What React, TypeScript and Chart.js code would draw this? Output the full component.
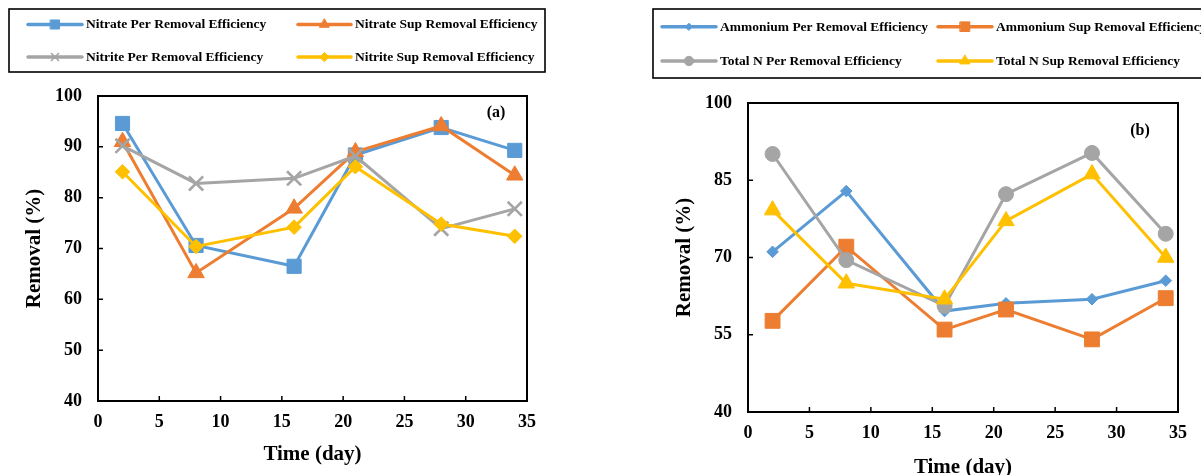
import React, { useEffect, useRef } from 'react';
import { Chart, registerables } from 'chart.js';
import { drawPoint } from 'chart.js/helpers';

Chart.register(...registerables);

// ---------- data ----------
const days = [2, 8, 16, 21, 28, 34];
const xTickValues = [0, 5, 10, 15, 20, 25, 30, 35];
const leftYTickValues = [40, 50, 60, 70, 80, 90, 100];
const rightYTickValues = [40, 55, 70, 85, 100];

const nitratePer = [94.6, 70.6, 66.5, 88.4, 93.8, 89.3];
const nitrateSup = [91.0, 65.2, 77.9, 89.0, 94.1, 84.4];
const nitritePer = [90.2, 82.8, 83.8, 88.2, 73.9, 77.8];
const nitriteSup = [85.1, 70.4, 74.2, 86.1, 74.8, 72.4];

const ammoniumPer = [71.1, 82.9, 59.6, 61.1, 61.9, 65.5];
const ammoniumSup = [57.7, 72.1, 56.0, 59.9, 54.1, 62.1];
const totalNPer = [90.1, 69.5, 60.6, 82.3, 90.3, 74.6];
const totalNSup = [79.2, 65.0, 61.9, 77.1, 86.2, 70.0];

// ---------- styles ----------
const BLUE = '#5B9BD5';
const ORANGE = '#ED7D31';
const GRAY = '#A5A5A5';
const YELLOW = '#FFC000';
const FONT = '"Liberation Serif", "Times New Roman", serif';

type Series = {
  label: string;
  values: number[];
  color: string;
  style: string;
  r: number;
  lr: number;
  bw: number;
};

const leftSeries: Series[] = [
  { label: 'Nitrate Per Removal Efficiency', values: nitratePer, color: BLUE, style: 'rect', r: 10, lr: 6.4, bw: 1 },
  { label: 'Nitrate Sup Removal Efficiency', values: nitrateSup, color: ORANGE, style: 'triangle', r: 9.5, lr: 5.5, bw: 1 },
  { label: 'Nitrite Per Removal Efficiency', values: nitritePer, color: GRAY, style: 'crossRot', r: 10, lr: 5, bw: 2.6 },
  { label: 'Nitrite Sup Removal Efficiency', values: nitriteSup, color: YELLOW, style: 'rectRot', r: 7.3, lr: 4.5, bw: 1 },
];

const rightSeries: Series[] = [
  { label: 'Ammonium Per Removal Efficiency', values: ammoniumPer, color: BLUE, style: 'rectRot', r: 5.8, lr: 3.5, bw: 1 },
  { label: 'Ammonium Sup Removal Efficiency', values: ammoniumSup, color: ORANGE, style: 'rect', r: 10.5, lr: 6.8, bw: 1 },
  { label: 'Total N Per Removal Efficiency', values: totalNPer, color: GRAY, style: 'circle', r: 7.5, lr: 4.7, bw: 1 },
  { label: 'Total N Sup Removal Efficiency', values: totalNSup, color: YELLOW, style: 'triangle', r: 9.5, lr: 5.8, bw: 1 },
];

type PanelLayout = {
  width: number;
  yWidth: number;
  xHeight: number;
  padTop: number;
  padRight: number;
  yTitlePad: number;
  xTitlePad: number;
  yTicks: number[];
  box: { left: number; top: number; right: number; bottom: number };
  cols: { l0: number; l1: number; tx: number }[];
  rows: number[];
  tag: string;
  tagX: number;
  tagY: number;
};

const leftLayout: PanelLayout = {
  width: 600,
  yWidth: 98,
  xHeight: 74,
  padTop: 96,
  padRight: 73,
  yTitlePad: 22,
  xTitlePad: 8,
  yTicks: leftYTickValues,
  box: { left: 9, top: 9, right: 545, bottom: 72 },
  cols: [
    { l0: 28, l1: 82, tx: 86 },
    { l0: 298, l1: 351, tx: 355 },
  ],
  rows: [24.5, 57],
  tag: '(a)',
  tagX: 496,
  tagY: 113,
};

const rightLayout: PanelLayout = {
  width: 601,
  yWidth: 148,
  xHeight: 63,
  padTop: 103,
  padRight: 23,
  yTitlePad: 72,
  xTitlePad: -5,
  yTicks: rightYTickValues,
  box: { left: 53, top: 9, right: 610, bottom: 78 },
  cols: [
    { l0: 62, l1: 116, tx: 120 },
    { l0: 338, l1: 392, tx: 396 },
  ],
  rows: [26.7, 61],
  tag: '(b)',
  tagX: 540,
  tagY: 131,
};

const framePlugin = {
  id: 'frame',
  beforeDatasetsDraw(chart: any) {
    const { ctx, chartArea: a, scales } = chart;
    ctx.save();
    ctx.strokeStyle = '#000';
    ctx.lineWidth = 2;
    ctx.strokeRect(a.left, a.top, a.right - a.left, a.bottom - a.top);
    ctx.lineWidth = 1.5;
    ctx.beginPath();
    const xs = scales.x;
    xs.ticks.forEach((t: any) => {
      if (t.value > xs.min && t.value < xs.max) {
        const px = xs.getPixelForValue(t.value);
        ctx.moveTo(px, a.bottom);
        ctx.lineTo(px, a.bottom - 5);
      }
    });
    const ys = scales.y;
    ys.ticks.forEach((t: any) => {
      if (t.value > ys.min && t.value < ys.max) {
        const py = ys.getPixelForValue(t.value);
        ctx.moveTo(a.left, py);
        ctx.lineTo(a.left + 5, py);
      }
    });
    ctx.stroke();
    ctx.restore();
  },
};

const legendBoxPlugin = {
  id: 'legendBox',
  afterDraw(chart: any, _args: any, opts: any) {
    const L: PanelLayout = opts.layout;
    const series: Series[] = opts.series;
    if (!L) return;
    const { ctx } = chart;
    ctx.save();
    ctx.strokeStyle = '#000';
    ctx.lineWidth = 1.6;
    ctx.strokeRect(L.box.left, L.box.top, L.box.right - L.box.left, L.box.bottom - L.box.top);
    series.forEach((s, i) => {
      const col = L.cols[i % 2];
      const y = L.rows[Math.floor(i / 2)];
      ctx.strokeStyle = s.color;
      ctx.fillStyle = s.color;
      ctx.lineWidth = 3.5;
      ctx.lineCap = 'round';
      ctx.beginPath();
      ctx.moveTo(col.l0, y);
      ctx.lineTo(col.l1, y);
      ctx.stroke();
      ctx.lineWidth = s.style === 'crossRot' ? 1.6 : 1;
      drawPoint(ctx, { pointStyle: s.style as any, radius: s.lr, borderWidth: ctx.lineWidth, rotation: 0 } as any, (col.l0 + col.l1) / 2, y);
      ctx.fillStyle = '#000';
      ctx.font = `bold 13.5px ${FONT}`;
      ctx.textBaseline = 'middle';
      ctx.textAlign = 'left';
      ctx.fillText(s.label, col.tx, y + 0.5);
    });
    ctx.fillStyle = '#000';
    ctx.font = `bold 16px ${FONT}`;
    ctx.textAlign = 'center';
    ctx.textBaseline = 'middle';
    ctx.fillText(L.tag, L.tagX, L.tagY);
    ctx.restore();
  },
};

function makeConfig(series: Series[], L: PanelLayout): any {
  const n = series.length;
  return {
    type: 'line',
    data: {
      datasets: series.map((s, i) => ({
        label: s.label,
        data: days.map((d, k) => ({ x: d, y: s.values[k] })),
        borderColor: s.color,
        backgroundColor: s.color,
        borderWidth: 3,
        pointStyle: s.style,
        pointRadius: s.r,
        pointHoverRadius: s.r,
        pointBorderWidth: s.bw,
        pointBorderColor: s.color,
        pointBackgroundColor: s.color,
        tension: 0,
        clip: false,
        order: n - 1 - i,
      })),
    },
    options: {
      responsive: false,
      animation: false,
      devicePixelRatio: 1,
      layout: { padding: { left: 0, right: L.padRight, top: L.padTop, bottom: 0 } },
      plugins: {
        legend: { display: false },
        tooltip: { enabled: false },
        legendBox: { layout: L, series },
      },
      scales: {
        x: {
          type: 'linear',
          min: 0,
          max: 35,
          afterBuildTicks: (s: any) => {
            s.ticks = xTickValues.map((v) => ({ value: v }));
          },
          afterFit: (s: any) => {
            s.height = L.xHeight;
          },
          grid: { display: false, drawTicks: false },
          border: { display: false },
          ticks: {
            padding: 11,
            color: '#000',
            maxRotation: 0,
            font: { family: FONT, size: 18, weight: 'bold' },
          },
          title: {
            display: true,
            text: 'Time (day)',
            color: '#000',
            font: { family: FONT, size: 21, weight: 'bold' },
            padding: { top: 0, bottom: L.xTitlePad },
          },
        },
        y: {
          type: 'linear',
          min: 40,
          max: 100,
          afterBuildTicks: (s: any) => {
            s.ticks = L.yTicks.map((v) => ({ value: v }));
          },
          afterFit: (s: any) => {
            s.width = L.yWidth;
          },
          grid: { display: false, drawTicks: false },
          border: { display: false },
          ticks: {
            padding: 16,
            color: '#000',
            font: { family: FONT, size: 18, weight: 'bold' },
          },
          title: {
            display: true,
            text: 'Removal (%)',
            color: '#000',
            font: { family: FONT, size: 21, weight: 'bold' },
            padding: { top: L.yTitlePad, bottom: 0 },
          },
        },
      },
    },
    plugins: [framePlugin, legendBoxPlugin],
  };
}

function Panel({ series, layout, left }: { series: Series[]; layout: PanelLayout; left: number }) {
  const ref = useRef<HTMLCanvasElement | null>(null);
  useEffect(() => {
    if (!ref.current) return;
    const chart = new Chart(ref.current, makeConfig(series, layout));
    return () => chart.destroy();
  }, [series, layout]);
  return (
    <canvas
      ref={ref}
      width={layout.width}
      height={475}
      style={{ position: 'absolute', left, top: 0, width: layout.width, height: 475 }}
    />
  );
}

export default function App() {
  return (
    <div
      style={{
        position: 'absolute',
        left: 0,
        top: 0,
        width: 1201,
        height: 475,
        background: '#fff',
        overflow: 'hidden',
      }}
    >
      <Panel series={leftSeries} layout={leftLayout} left={0} />
      <Panel series={rightSeries} layout={rightLayout} left={600} />
    </div>
  );
}
